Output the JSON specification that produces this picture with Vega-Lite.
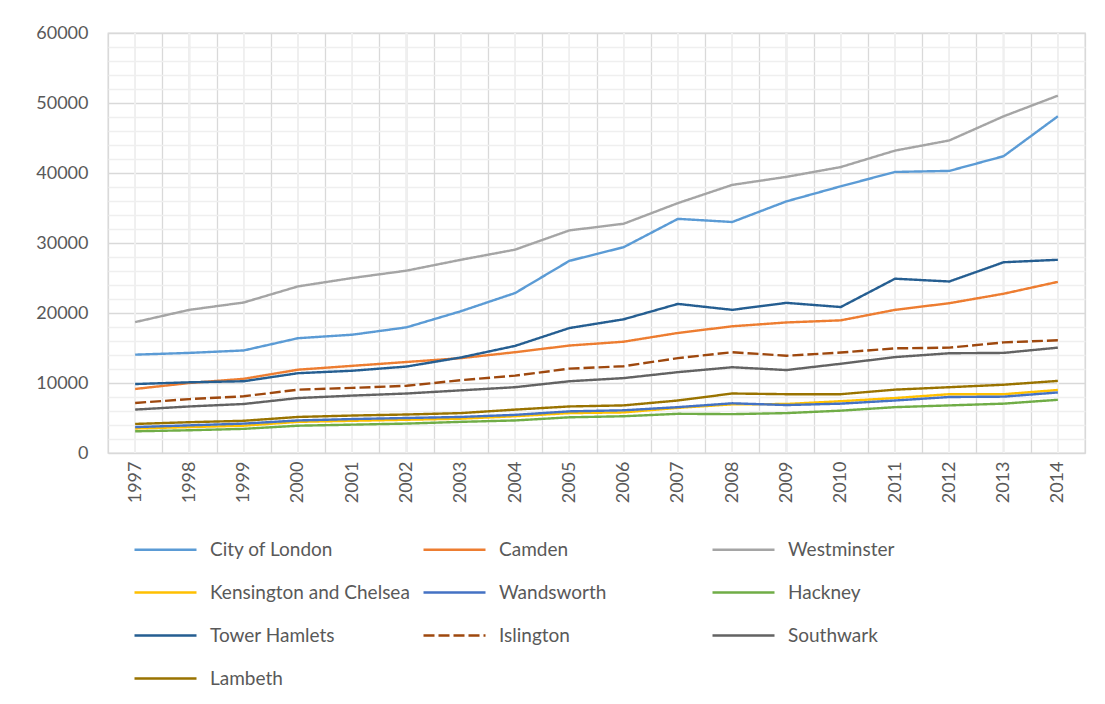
{
  "$schema": "https://vega.github.io/schema/vega-lite/v6.json",
  "width": 977,
  "height": 420,
  "autosize": "none",
  "padding": {"left": 108, "top": 33, "right": 20, "bottom": 251},
  "background": "white",
  "config": {
    "font": "Lato",
    "view": {"stroke": "#d9d9d9", "strokeWidth": 1.3},
    "axis": {"labelFont": "Lato", "labelFontSize": 18, "labelColor": "#595959", "ticks": false, "domain": false, "title": null},
    "legend": {"labelFont": "Lato", "labelFontSize": 19, "labelColor": "#595959"}
  },
  "data": {"values": [
    {"year":"1997","borough":"City of London","value":14050},{"year":"1998","borough":"City of London","value":14300},{"year":"1999","borough":"City of London","value":14650},{"year":"2000","borough":"City of London","value":16400},{"year":"2001","borough":"City of London","value":16900},{"year":"2002","borough":"City of London","value":17950},{"year":"2003","borough":"City of London","value":20250},{"year":"2004","borough":"City of London","value":22850},{"year":"2005","borough":"City of London","value":27450},{"year":"2006","borough":"City of London","value":29400},{"year":"2007","borough":"City of London","value":33450},{"year":"2008","borough":"City of London","value":33000},{"year":"2009","borough":"City of London","value":35950},{"year":"2010","borough":"City of London","value":38100},{"year":"2011","borough":"City of London","value":40150},{"year":"2012","borough":"City of London","value":40300},{"year":"2013","borough":"City of London","value":42400},{"year":"2014","borough":"City of London","value":48100},
    {"year":"1997","borough":"Camden","value":9150},{"year":"1998","borough":"Camden","value":10000},{"year":"1999","borough":"Camden","value":10600},{"year":"2000","borough":"Camden","value":11900},{"year":"2001","borough":"Camden","value":12450},{"year":"2002","borough":"Camden","value":13000},{"year":"2003","borough":"Camden","value":13550},{"year":"2004","borough":"Camden","value":14400},{"year":"2005","borough":"Camden","value":15350},{"year":"2006","borough":"Camden","value":15900},{"year":"2007","borough":"Camden","value":17150},{"year":"2008","borough":"Camden","value":18100},{"year":"2009","borough":"Camden","value":18650},{"year":"2010","borough":"Camden","value":18950},{"year":"2011","borough":"Camden","value":20450},{"year":"2012","borough":"Camden","value":21400},{"year":"2013","borough":"Camden","value":22750},{"year":"2014","borough":"Camden","value":24450},
    {"year":"1997","borough":"Westminster","value":18700},{"year":"1998","borough":"Westminster","value":20450},{"year":"1999","borough":"Westminster","value":21500},{"year":"2000","borough":"Westminster","value":23800},{"year":"2001","borough":"Westminster","value":25000},{"year":"2002","borough":"Westminster","value":26050},{"year":"2003","borough":"Westminster","value":27600},{"year":"2004","borough":"Westminster","value":29050},{"year":"2005","borough":"Westminster","value":31800},{"year":"2006","borough":"Westminster","value":32750},{"year":"2007","borough":"Westminster","value":35700},{"year":"2008","borough":"Westminster","value":38300},{"year":"2009","borough":"Westminster","value":39450},{"year":"2010","borough":"Westminster","value":40850},{"year":"2011","borough":"Westminster","value":43200},{"year":"2012","borough":"Westminster","value":44650},{"year":"2013","borough":"Westminster","value":48100},{"year":"2014","borough":"Westminster","value":51050},
    {"year":"1997","borough":"Kensington and Chelsea","value":3500},{"year":"1998","borough":"Kensington and Chelsea","value":3700},{"year":"1999","borough":"Kensington and Chelsea","value":3900},{"year":"2000","borough":"Kensington and Chelsea","value":4450},{"year":"2001","borough":"Kensington and Chelsea","value":4600},{"year":"2002","borough":"Kensington and Chelsea","value":4750},{"year":"2003","borough":"Kensington and Chelsea","value":4900},{"year":"2004","borough":"Kensington and Chelsea","value":5250},{"year":"2005","borough":"Kensington and Chelsea","value":5700},{"year":"2006","borough":"Kensington and Chelsea","value":5800},{"year":"2007","borough":"Kensington and Chelsea","value":6450},{"year":"2008","borough":"Kensington and Chelsea","value":6950},{"year":"2009","borough":"Kensington and Chelsea","value":7000},{"year":"2010","borough":"Kensington and Chelsea","value":7400},{"year":"2011","borough":"Kensington and Chelsea","value":7850},{"year":"2012","borough":"Kensington and Chelsea","value":8400},{"year":"2013","borough":"Kensington and Chelsea","value":8400},{"year":"2014","borough":"Kensington and Chelsea","value":9000},
    {"year":"1997","borough":"Wandsworth","value":3700},{"year":"1998","borough":"Wandsworth","value":3950},{"year":"1999","borough":"Wandsworth","value":4200},{"year":"2000","borough":"Wandsworth","value":4650},{"year":"2001","borough":"Wandsworth","value":4850},{"year":"2002","borough":"Wandsworth","value":5000},{"year":"2003","borough":"Wandsworth","value":5150},{"year":"2004","borough":"Wandsworth","value":5450},{"year":"2005","borough":"Wandsworth","value":5950},{"year":"2006","borough":"Wandsworth","value":6100},{"year":"2007","borough":"Wandsworth","value":6550},{"year":"2008","borough":"Wandsworth","value":7100},{"year":"2009","borough":"Wandsworth","value":6850},{"year":"2010","borough":"Wandsworth","value":7050},{"year":"2011","borough":"Wandsworth","value":7500},{"year":"2012","borough":"Wandsworth","value":8000},{"year":"2013","borough":"Wandsworth","value":8050},{"year":"2014","borough":"Wandsworth","value":8650},
    {"year":"1997","borough":"Hackney","value":3100},{"year":"1998","borough":"Hackney","value":3250},{"year":"1999","borough":"Hackney","value":3450},{"year":"2000","borough":"Hackney","value":3900},{"year":"2001","borough":"Hackney","value":4050},{"year":"2002","borough":"Hackney","value":4200},{"year":"2003","borough":"Hackney","value":4450},{"year":"2004","borough":"Hackney","value":4650},{"year":"2005","borough":"Hackney","value":5100},{"year":"2006","borough":"Hackney","value":5250},{"year":"2007","borough":"Hackney","value":5600},{"year":"2008","borough":"Hackney","value":5550},{"year":"2009","borough":"Hackney","value":5700},{"year":"2010","borough":"Hackney","value":6050},{"year":"2011","borough":"Hackney","value":6550},{"year":"2012","borough":"Hackney","value":6800},{"year":"2013","borough":"Hackney","value":7050},{"year":"2014","borough":"Hackney","value":7600},
    {"year":"1997","borough":"Tower Hamlets","value":9850},{"year":"1998","borough":"Tower Hamlets","value":10100},{"year":"1999","borough":"Tower Hamlets","value":10250},{"year":"2000","borough":"Tower Hamlets","value":11400},{"year":"2001","borough":"Tower Hamlets","value":11750},{"year":"2002","borough":"Tower Hamlets","value":12350},{"year":"2003","borough":"Tower Hamlets","value":13650},{"year":"2004","borough":"Tower Hamlets","value":15300},{"year":"2005","borough":"Tower Hamlets","value":17850},{"year":"2006","borough":"Tower Hamlets","value":19100},{"year":"2007","borough":"Tower Hamlets","value":21300},{"year":"2008","borough":"Tower Hamlets","value":20450},{"year":"2009","borough":"Tower Hamlets","value":21450},{"year":"2010","borough":"Tower Hamlets","value":20850},{"year":"2011","borough":"Tower Hamlets","value":24900},{"year":"2012","borough":"Tower Hamlets","value":24500},{"year":"2013","borough":"Tower Hamlets","value":27250},{"year":"2014","borough":"Tower Hamlets","value":27600},
    {"year":"1997","borough":"Islington","value":7150},{"year":"1998","borough":"Islington","value":7700},{"year":"1999","borough":"Islington","value":8100},{"year":"2000","borough":"Islington","value":9050},{"year":"2001","borough":"Islington","value":9300},{"year":"2002","borough":"Islington","value":9600},{"year":"2003","borough":"Islington","value":10400},{"year":"2004","borough":"Islington","value":11050},{"year":"2005","borough":"Islington","value":12050},{"year":"2006","borough":"Islington","value":12400},{"year":"2007","borough":"Islington","value":13550},{"year":"2008","borough":"Islington","value":14400},{"year":"2009","borough":"Islington","value":13900},{"year":"2010","borough":"Islington","value":14350},{"year":"2011","borough":"Islington","value":14950},{"year":"2012","borough":"Islington","value":15050},{"year":"2013","borough":"Islington","value":15800},{"year":"2014","borough":"Islington","value":16100},
    {"year":"1997","borough":"Southwark","value":6200},{"year":"1998","borough":"Southwark","value":6650},{"year":"1999","borough":"Southwark","value":7000},{"year":"2000","borough":"Southwark","value":7850},{"year":"2001","borough":"Southwark","value":8200},{"year":"2002","borough":"Southwark","value":8500},{"year":"2003","borough":"Southwark","value":8950},{"year":"2004","borough":"Southwark","value":9400},{"year":"2005","borough":"Southwark","value":10250},{"year":"2006","borough":"Southwark","value":10700},{"year":"2007","borough":"Southwark","value":11550},{"year":"2008","borough":"Southwark","value":12250},{"year":"2009","borough":"Southwark","value":11850},{"year":"2010","borough":"Southwark","value":12750},{"year":"2011","borough":"Southwark","value":13700},{"year":"2012","borough":"Southwark","value":14250},{"year":"2013","borough":"Southwark","value":14300},{"year":"2014","borough":"Southwark","value":15050},
    {"year":"1997","borough":"Lambeth","value":4150},{"year":"1998","borough":"Lambeth","value":4400},{"year":"1999","borough":"Lambeth","value":4600},{"year":"2000","borough":"Lambeth","value":5150},{"year":"2001","borough":"Lambeth","value":5350},{"year":"2002","borough":"Lambeth","value":5500},{"year":"2003","borough":"Lambeth","value":5700},{"year":"2004","borough":"Lambeth","value":6200},{"year":"2005","borough":"Lambeth","value":6650},{"year":"2006","borough":"Lambeth","value":6800},{"year":"2007","borough":"Lambeth","value":7500},{"year":"2008","borough":"Lambeth","value":8500},{"year":"2009","borough":"Lambeth","value":8400},{"year":"2010","borough":"Lambeth","value":8400},{"year":"2011","borough":"Lambeth","value":9050},{"year":"2012","borough":"Lambeth","value":9400},{"year":"2013","borough":"Lambeth","value":9750},{"year":"2014","borough":"Lambeth","value":10300}
  ]},
  "layer": [
    {
      "mark": {"type": "rule", "color": "#efefef", "strokeWidth": 1.3},
      "encoding": {
        "x": {"field": "year", "type": "ordinal", "bandPosition": 0.5}
      }
    },
    {
      "mark": {"type": "line", "strokeWidth": 2.4},
      "encoding": {
        "x": {
          "field": "year", "type": "ordinal", "bandPosition": 0.5,
          "scale": {"type": "band", "paddingInner": 0, "paddingOuter": 0},
          "axis": {"grid": true, "tickBand": "extent", "gridColor": "#d9d9d9", "gridWidth": 1.3, "labelAngle": -90, "labelAlign": "right", "labelBaseline": "middle", "labelPadding": 8}
        },
        "y": {
          "field": "value", "type": "quantitative",
          "scale": {"domain": [0, 60000], "nice": false},
          "axis": {
            "values": [0,2000,4000,6000,8000,10000,12000,14000,16000,18000,20000,22000,24000,26000,28000,30000,32000,34000,36000,38000,40000,42000,44000,46000,48000,50000,52000,54000,56000,58000,60000],
            "grid": true,
            "gridColor": {"condition": {"test": "datum.value % 10000 === 0", "value": "#d9d9d9"}, "value": "#efefef"},
            "gridWidth": 1.3,
            "format": "d",
            "labelExpr": "datum.value % 10000 === 0 ? datum.label : ''",
            "labelPadding": 20
          }
        },
        "color": {
          "field": "borough", "type": "nominal",
          "scale": {
            "domain": ["City of London","Camden","Westminster","Kensington and Chelsea","Wandsworth","Hackney","Tower Hamlets","Islington","Southwark","Lambeth"],
            "range": ["#5B9BD5","#ED7D31","#A5A5A5","#FFC000","#4472C4","#70AD47","#255E91","#9E480E","#636363","#997300"]
          },
          "legend": {
            "title": null, "orient": "bottom", "direction": "horizontal", "columns": 3,
            "symbolType": "stroke", "symbolSize": 3844, "symbolStrokeWidth": 2.5,
            "labelOffset": 12, "labelLimit": 320, "rowPadding": -25, "columnPadding": 8, "gridAlign": "all",
            "offset": -11, "padding": 25
          }
        },
        "strokeDash": {
          "field": "borough", "type": "nominal",
          "scale": {
            "domain": ["City of London","Camden","Westminster","Kensington and Chelsea","Wandsworth","Hackney","Tower Hamlets","Islington","Southwark","Lambeth"],
            "range": [[1,0],[1,0],[1,0],[1,0],[1,0],[1,0],[1,0],[11,4],[1,0],[1,0]]
          },
          "legend": {"title": null}
        },
        "strokeWidth": {
          "condition": {"test": "datum.borough === 'Islington'", "value": 4},
          "value": 2.4
        }
      }
    }
  ]
}
